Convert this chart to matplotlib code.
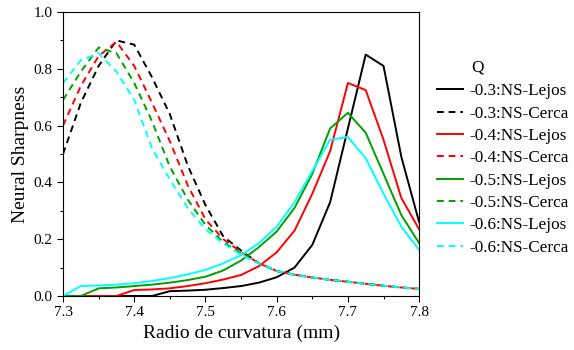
import matplotlib.pyplot as plt
from matplotlib.ticker import MultipleLocator

plt.rcParams['font.family'] = ['Liberation Serif', 'DejaVu Serif']

radio = [7.3, 7.325, 7.35, 7.375, 7.4, 7.425, 7.45, 7.475, 7.5, 7.525, 7.55,
         7.575, 7.6, 7.625, 7.65, 7.675, 7.7, 7.725, 7.75, 7.775, 7.8]

# NS-Lejos (solid)
lejos_03 = [0, 0, 0, 0, 0, 0, 0.017, 0.019, 0.022, 0.028, 0.035,
            0.047, 0.066, 0.10, 0.18, 0.33, 0.59, 0.85, 0.81, 0.49, 0.26]
lejos_04 = [0, 0, 0, 0, 0.021, 0.023, 0.027, 0.035, 0.045, 0.058, 0.074,
            0.105, 0.154, 0.23, 0.36, 0.51, 0.75, 0.725, 0.55, 0.345, 0.235]
lejos_05 = [0, 0, 0.027, 0.03, 0.035, 0.04, 0.047, 0.056, 0.068, 0.09, 0.125,
            0.172, 0.227, 0.31, 0.43, 0.59, 0.645, 0.575, 0.43, 0.285, 0.186]
lejos_06 = [0, 0.035, 0.037, 0.04, 0.045, 0.053, 0.063, 0.076, 0.092, 0.115, 0.144,
            0.186, 0.244, 0.33, 0.44, 0.55, 0.56, 0.485, 0.36, 0.244, 0.162]

# NS-Cerca (dashed)
cerca_03 = [0.50, 0.68, 0.81, 0.90, 0.885, 0.77, 0.64, 0.46, 0.32, 0.21, 0.16,
            0.115, 0.088, 0.075, 0.065, 0.057, 0.05, 0.043, 0.036, 0.03, 0.025]
cerca_04 = [0.60, 0.74, 0.845, 0.895, 0.81, 0.68, 0.545, 0.39, 0.27, 0.20, 0.155,
            0.115, 0.088, 0.075, 0.065, 0.057, 0.05, 0.043, 0.036, 0.03, 0.025]
cerca_05 = [0.69, 0.79, 0.875, 0.855, 0.75, 0.615, 0.455, 0.34, 0.25, 0.19, 0.15,
            0.115, 0.088, 0.075, 0.065, 0.057, 0.05, 0.043, 0.036, 0.03, 0.025]
cerca_06 = [0.75, 0.83, 0.855, 0.79, 0.69, 0.52, 0.41, 0.31, 0.235, 0.185, 0.145,
            0.115, 0.088, 0.075, 0.065, 0.057, 0.05, 0.043, 0.036, 0.03, 0.025]

series = [
    ('-0.3', 'black', lejos_03, cerca_03),
    ('-0.4', '#ff0000', lejos_04, cerca_04),
    ('-0.5', '#00a000', lejos_05, cerca_05),
    ('-0.6', '#00ffff', lejos_06, cerca_06),
]

fig = plt.figure(figsize=(5.74, 3.5), dpi=100)
ax = fig.add_axes([0.1098, 0.1543, 0.6204, 0.8114])

lw = 1.4
dash = (0, (3.5, 2.5))
for q, c, lej, cer in series:
    ax.plot(radio, lej, color=c, lw=lw, label=q + ':NS-Lejos')
    ax.plot(radio, cer, color=c, lw=lw, linestyle=dash, label=q + ':NS-Cerca')

ax.set_xlim(7.3, 7.8)
ax.set_ylim(0, 1.0)
ax.xaxis.set_major_locator(MultipleLocator(0.1))
ax.xaxis.set_minor_locator(MultipleLocator(0.05))
ax.yaxis.set_major_locator(MultipleLocator(0.2))
ax.yaxis.set_minor_locator(MultipleLocator(0.1))
ax.tick_params(which='major', direction='out', length=4, width=0.8, labelsize=11)
ax.tick_params(which='minor', direction='out', length=2.5, width=0.8)
ax.xaxis.set_major_formatter(plt.FuncFormatter(lambda v, p: '%.1f' % v))
ax.yaxis.set_major_formatter(plt.FuncFormatter(lambda v, p: '%.1f' % v))

ax.set_xlabel('Radio de curvatura (mm)', fontsize=14, labelpad=4)
ax.set_ylabel('Neural Sharpness', fontsize=14, labelpad=3)

ax.legend(loc='upper left', bbox_to_anchor=(0.761, 0.762),
          bbox_transform=fig.transFigure, frameon=False, fontsize=12.3,
          handlelength=1.56, handletextpad=0.35,
          labelspacing=0.37, borderpad=0, borderaxespad=0)
fig.text(478 / 574, 1 - 68 / 350, 'Q', fontsize=12.3, ha='center', va='center')

fig.savefig('out.png', dpi=100)
